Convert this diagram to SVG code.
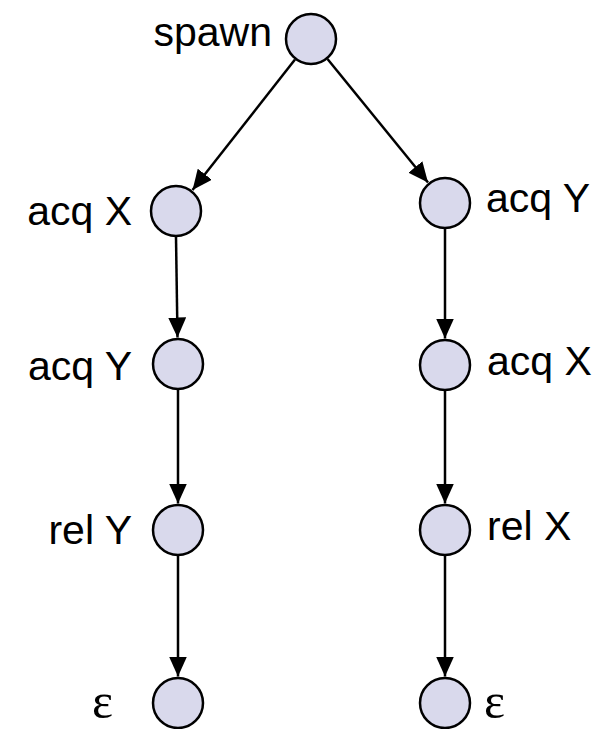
<svg xmlns="http://www.w3.org/2000/svg" width="610" height="729" viewBox="0 0 610 729">
  <style>
    .node { fill: #d9d9ec; stroke: #000; stroke-width: 2.5; }
    .label { font-family: "Liberation Sans", Arial, Helvetica, sans-serif; font-size: 41px; fill: #000; }
    .eps { font-family: "Liberation Serif", "Times New Roman", serif; font-size: 50px; fill: #000; }
    .edge { stroke: #000; stroke-width: 2.5; fill: none; marker-end: url(#arrow); }
  </style>
  <defs>
    <marker id="arrow" markerUnits="userSpaceOnUse" markerWidth="20" markerHeight="18" refX="20" refY="9" orient="auto">
      <path d="M0,0 L20,9 L0,18 Z" fill="#000"/>
    </marker>
  </defs>
  <rect width="610" height="729" fill="#fff"/>

  <g id="connectors">
    <line class="edge" x1="295" y1="59.5" x2="192.5" y2="190"/>
    <line class="edge" x1="327.5" y1="59" x2="428" y2="182.5"/>
    <line class="edge" x1="176" y1="237" x2="177.5" y2="337.5"/>
    <line class="edge" x1="178" y1="390" x2="178" y2="503.5"/>
    <line class="edge" x1="178" y1="556" x2="178" y2="676.5"/>
    <line class="edge" x1="445" y1="229" x2="445" y2="338.5"/>
    <line class="edge" x1="445" y1="391" x2="445" y2="503.5"/>
    <line class="edge" x1="445" y1="556" x2="445" y2="676.5"/>
  </g>

  <g id="spawn">
    <circle class="node" cx="311" cy="39" r="25"/>
    <text class="label" x="272" y="46" text-anchor="end">spawn</text>
  </g>
  <g id="left-acq-x">
    <circle class="node" cx="176" cy="211" r="25"/>
    <text class="label" x="132" y="225" text-anchor="end">acq X</text>
  </g>
  <g id="left-acq-y">
    <circle class="node" cx="178" cy="364" r="25"/>
    <text class="label" x="132" y="380" text-anchor="end">acq Y</text>
  </g>
  <g id="left-rel-y">
    <circle class="node" cx="178" cy="530" r="25"/>
    <text class="label" x="132" y="544" text-anchor="end">rel Y</text>
  </g>
  <g id="left-end">
    <circle class="node" cx="178" cy="703" r="25"/>
    <text class="eps" x="92" y="718">ε</text>
  </g>
  <g id="right-acq-y">
    <circle class="node" cx="445" cy="203" r="25"/>
    <text class="label" x="486" y="212">acq Y</text>
  </g>
  <g id="right-acq-x">
    <circle class="node" cx="445" cy="365" r="25"/>
    <text class="label" x="487" y="375">acq X</text>
  </g>
  <g id="right-rel-x">
    <circle class="node" cx="445" cy="530" r="25"/>
    <text class="label" x="487" y="540">rel X</text>
  </g>
  <g id="right-end">
    <circle class="node" cx="445" cy="703" r="25"/>
    <text class="eps" x="484" y="718">ε</text>
  </g>
</svg>
